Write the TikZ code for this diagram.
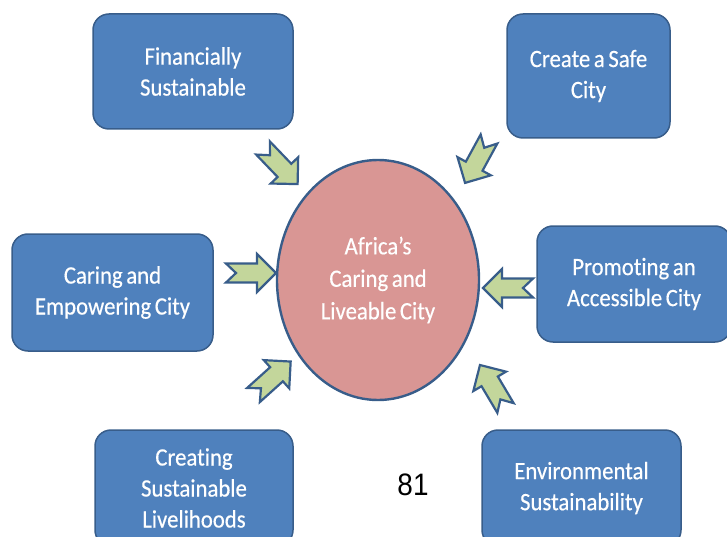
\documentclass[tikz,border=0pt]{standalone}
\usepackage{fontspec}
\setmainfont{Carlito}[FakeStretch=0.91,WordSpace=0.7,Ligatures=NoCommon,FakeBold=0.4]
\newfontfamily\numfont{Liberation Sans}[FakeStretch=0.9]
\usetikzlibrary{shapes.geometric}
\definecolor{boxblue}{HTML}{4F81BD}
\definecolor{edgeblue}{HTML}{385D8A}
\definecolor{hubred}{HTML}{D99694}
\definecolor{arrowgreen}{HTML}{C3D69B}
\tikzset{
  goalbox/.style={rectangle, rounded corners=16pt, fill=boxblue, draw=edgeblue,
    line width=1.5pt, text=white, align=center, inner sep=0pt,
    font=\fontsize{25}{31}\selectfont},
  hub/.style={ellipse, fill=hubred, draw=edgeblue, line width=2.4pt,
    minimum width=202pt, minimum height=240pt, inner sep=0pt,
    text=white, align=center, font=\fontsize{25}{32.5}\selectfont},
  barrow/.pic={\draw[fill=arrowgreen, draw=edgeblue, line width=2.2pt, line join=miter]
    (0,9.5) -- (31,9.5) -- (31,19) -- (50,0) -- (31,-19) -- (31,-9.5) -- (0,-9.5) -- (10,0) -- cycle;}
}
\begin{document}
\begin{tikzpicture}[x=1pt,y=-1pt]
\useasboundingbox (0,0) rectangle (727,537);

\node[goalbox, minimum width=200pt, minimum height=115pt] (fin) at (193,71.5) {Financially\\Sustainable};
\node[goalbox, minimum width=163pt, minimum height=124pt] (safe) at (588.5,76) {Create a Safe\\City};
\node[goalbox, minimum width=201pt, minimum height=117pt] (care) at (112.5,292.5) {Caring and\\Empowering City};
\node[goalbox, minimum width=194pt, minimum height=116pt] (access) at (634,284) {Promoting an\\Accessible City};
\node[goalbox, minimum width=198pt, minimum height=116pt] (liveli) at (194,488) {Creating\\Sustainable\\Livelihoods};
\node[goalbox, minimum width=199pt, minimum height=116pt] (env) at (581.5,488) {Environmental\\Sustainability};

\node[hub] (hub) at (378,280) {Africa’s\\Caring and\\Liveable City};

\pic[rotate=-46.2] at (263,148) {barrow};
\pic[rotate=-118.6] at (489,139) {barrow};
\pic[rotate=0] at (226,273) {barrow};
\pic[rotate=180] at (533,288) {barrow};
\pic[rotate=42] at (253.5,395) {barrow};
\pic[rotate=120.7] at (505.5,408) {barrow};

\node (pagenum) at (413,485) {\numfont\fontsize{31}{31}\selectfont 81};
\end{tikzpicture}
\end{document}
